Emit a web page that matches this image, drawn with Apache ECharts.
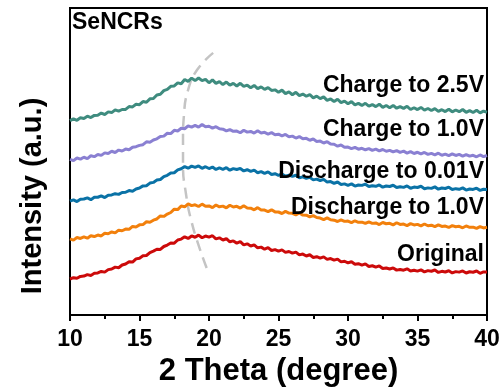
<!DOCTYPE html>
<html>
<head>
<meta charset="utf-8">
<script src="https://cdn.jsdelivr.net/npm/echarts@6/dist/echarts.min.js"></script>
<style>
  html, body { margin: 0; padding: 0; background: #fff; }
  #chart { width: 504px; height: 392px; }
</style>
</head>
<body>
<div id="chart"></div>
<script>
// 2-theta sampling grid (degrees), 0.25 step from 10 to 40
const thetaStart = 10;
const thetaStep = 0.25;

// Stacked, offset XRD intensities (a.u.), one value per grid step
const original = [
  36.2, 37.5, 36.9, 38.8, 39.1, 40.6, 39.8, 41.9, 42.3, 43.8, 43.1, 45.6, 46.2, 48.1, 47.5, 50.2,
  51.3, 53.6, 53.2, 56.4, 57.1, 59.5, 59.8, 62.7, 64.2, 66.1, 65.9, 68.8, 70.3, 72.4, 72.1, 75.3,
  76.2, 78.5, 76.9, 79.4, 78.1, 80.2, 77.6, 79.3, 78.2, 79.6, 76.4, 77.5, 75.3, 76.6, 73.5, 74.4,
  72.2, 73.6, 70.4, 71.5, 69.3, 70.4, 67.5, 68.2, 66.1, 67.6, 64.8, 65.7, 64.2, 65.4, 62.9, 63.8,
  62.1, 63.2, 60.4, 61.2, 59.3, 60.5, 57.8, 58.6, 57.2, 58.4, 55.9, 56.7, 55.1, 56.2, 53.4, 54.0,
  52.3, 53.5, 51.0, 51.6, 50.2, 51.4, 48.8, 49.5, 48.1, 49.3, 46.7, 47.2, 46.2, 47.3, 45.1, 45.8,
  45.0, 46.4, 44.2, 44.9, 44.1, 45.3, 43.4, 44.6, 44.0, 45.2, 42.8, 43.9, 43.2, 44.5, 42.3, 43.6,
  43.1, 44.3, 42.2, 43.5, 43.0, 44.2, 41.9, 43.3, 43.2
];
const discharge1V = [
  76.4, 75.2, 77.8, 76.9, 78.5, 77.1, 79.6, 78.8, 80.3, 79.4, 82.1, 81.6, 83.4, 82.5, 85.2, 84.6,
  86.3, 86.0, 88.9, 88.4, 90.5, 90.8, 93.6, 93.1, 95.2, 96.4, 99.5, 99.0, 101.3, 102.9, 106.2, 105.8,
  109.4, 108.6, 111.5, 109.8, 110.6, 108.9, 111.3, 109.2, 109.5, 107.8, 110.4, 108.6, 109.3, 107.6, 110.2, 108.4,
  109.1, 107.3, 109.6, 107.5, 107.2, 105.6, 107.8, 105.4, 105.3, 103.8, 105.6, 103.5, 103.4, 101.9, 104.0, 102.3,
  102.1, 100.6, 102.4, 100.3, 100.2, 98.5, 99.8, 97.9, 97.3, 95.8, 97.5, 95.6, 95.2, 93.9, 95.6, 94.0,
  94.3, 92.8, 94.6, 93.1, 93.2, 91.9, 93.5, 92.0, 92.4, 90.8, 92.9, 91.6, 92.1, 90.5, 92.6, 90.9,
  91.3, 89.8, 91.7, 90.4, 91.0, 89.5, 91.4, 89.6, 90.2, 88.7, 90.5, 88.9, 89.3, 87.9, 89.8, 88.6,
  89.1, 87.6, 89.4, 88.0, 88.2, 86.9, 88.7, 87.4, 88.1
];
const discharge001V = [
  114.3, 115.6, 113.9, 116.2, 116.4, 117.5, 115.8, 118.1, 118.2, 119.6, 117.9, 120.3, 120.5, 121.8, 121.1, 123.0,
  123.2, 124.9, 124.3, 126.5, 127.4, 129.6, 129.8, 132.4, 133.1, 135.4, 136.0, 138.9, 140.2, 142.5, 142.8, 145.6,
  146.8, 148.9, 147.3, 149.4, 148.1, 149.6, 147.2, 148.8, 147.0, 148.5, 146.1, 147.6, 146.2, 147.8, 145.3, 146.9,
  146.0, 147.1, 144.6, 145.8, 144.2, 145.4, 142.8, 143.9, 142.1, 143.6, 141.0, 141.8, 140.2, 141.5, 139.3, 140.4,
  139.1, 140.3, 137.8, 138.6, 137.2, 138.1, 135.6, 136.4, 135.0, 136.2, 133.4, 133.9, 132.1, 133.5, 131.0, 131.6,
  130.2, 131.6, 129.4, 130.5, 130.1, 131.3, 128.9, 129.8, 129.2, 130.6, 128.3, 129.5, 129.0, 130.2, 127.9, 128.7,
  128.1, 129.5, 127.2, 128.4, 128.0, 129.2, 126.8, 127.6, 127.1, 128.6, 126.3, 127.5, 127.0, 128.3, 125.9, 126.8,
  126.2, 127.6, 125.4, 126.5, 126.0, 127.3, 125.1, 126.2, 126.0
];
const charge1V = [
  156.2, 154.9, 157.6, 156.4, 158.3, 157.0, 159.8, 158.9, 161.1, 160.2, 162.7, 162.0, 164.3, 163.1, 165.5, 164.6,
  166.5, 165.8, 168.4, 168.9, 170.2, 170.9, 173.8, 173.4, 175.6, 176.8, 179.1, 179.5, 182.4, 182.0, 185.3, 184.7,
  187.4, 186.9, 189.8, 188.6, 190.3, 188.5, 191.2, 188.9, 189.4, 187.6, 189.0, 186.8, 186.5, 184.7, 186.1, 184.3,
  184.6, 182.9, 185.4, 183.5, 184.2, 182.6, 184.8, 182.7, 183.3, 181.6, 183.0, 180.9, 181.4, 179.8, 181.2, 178.9,
  179.5, 177.6, 179.1, 176.8, 177.3, 175.4, 176.6, 174.2, 174.5, 172.6, 173.9, 171.5, 171.3, 169.4, 170.6, 168.3,
  168.5, 166.9, 168.2, 166.4, 167.3, 165.8, 167.0, 165.2, 166.4, 164.7, 166.1, 164.3, 165.2, 163.6, 165.0, 163.2,
  164.4, 162.5, 164.0, 162.1, 163.3, 161.6, 163.1, 161.2, 162.2, 160.8, 162.4, 160.3, 161.4, 159.9, 161.6, 160.1,
  161.2, 159.5, 161.0, 159.4, 160.3, 158.8, 160.6, 158.9, 160.1
];
const charge25V = [
  195.0, 196.8, 195.4, 197.9, 197.2, 199.5, 198.1, 200.3, 200.4, 202.6, 201.2, 203.8, 203.1, 205.9, 204.6, 206.2,
  206.3, 209.1, 208.8, 211.4, 211.0, 214.2, 213.5, 216.9, 217.3, 220.8, 221.5, 225.1, 226.4, 229.5, 229.8, 232.9,
  232.1, 236.3, 234.4, 237.6, 235.2, 237.8, 235.1, 236.4, 233.0, 235.9, 232.4, 234.1, 231.2, 233.7, 230.6, 232.4,
  229.8, 232.5, 229.4, 230.6, 228.1, 230.3, 227.2, 228.9, 226.4, 228.2, 225.3, 225.9, 223.5, 225.6, 222.1, 223.8,
  221.0, 223.4, 220.2, 221.7, 219.5, 221.2, 217.8, 219.6, 217.1, 218.9, 215.4, 216.8, 214.2, 216.5, 213.1, 214.6,
  212.0, 214.1, 210.8, 212.3, 210.3, 212.4, 209.6, 211.2, 209.1, 211.5, 208.4, 210.2, 208.0, 210.3, 207.5, 209.1,
  207.3, 209.4, 206.2, 208.0, 206.1, 208.3, 205.6, 207.2, 205.2, 207.1, 204.3, 206.0, 204.1, 206.5, 203.9, 205.7,
  204.0, 206.2, 203.4, 205.1, 203.2, 205.4, 202.8, 204.6, 203.5
];

// Guide through the broad-peak maximum (2-theta, intensity)
const guideTheta = [20.3, 19.15, 18.5, 18.2, 18.13, 18.13, 18.35, 18.7, 19.35, 19.95];
const guideValue = [263, 246, 226, 201, 176, 151, 121, 96, 66, 43];

const seriesNames = ['Original', 'Discharge to 1.0V', 'Discharge to 0.01V', 'Charge to 1.0V', 'Charge to 2.5V'];
const seriesValues = [original, discharge1V, discharge001V, charge1V, charge25V];
const seriesColors = ['#cc0a0a', '#f2800c', '#0a72a6', '#8a80d2', '#3f8c7f'];
const xTicks = [10, 15, 20, 25, 30, 35, 40];

const FONT = '"Liberation Sans", Arial, Helvetica, sans-serif';

const chart = echarts.init(document.getElementById('chart'), null, { renderer: 'canvas' });

const toPairs = (vals) => vals.map((v, i) => [thetaStart + i * thetaStep, v]);

const curveSeries = seriesValues.map((vals, k) => ({
  name: seriesNames[k],
  type: 'line',
  data: toPairs(vals),
  showSymbol: false,
  silent: true,
  z: 3,
  lineStyle: { color: seriesColors[k], width: 3 },
  itemStyle: { color: seriesColors[k] }
}));

const guideSeries = {
  name: 'guide',
  type: 'line',
  data: guideTheta.map((t, i) => [t, guideValue[i]]),
  showSymbol: false,
  smooth: 0.5,
  silent: true,
  z: 2,
  lineStyle: { color: '#c4c4c4', width: 2.5, type: [11, 7] }
};

// Right-aligned sample labels beside each curve
const labelTop = [256, 209, 173, 131, 87];
const labelGraphics = seriesNames.map((name, k) => ({
  type: 'text',
  right: 20,
  top: labelTop[k] - 13,
  z: 10,
  style: {
    text: name,
    fill: '#000',
    font: 'bold 23px ' + FONT,
    textAlign: 'right'
  }
}));

chart.setOption({
  animation: false,
  backgroundColor: '#fff',
  grid: {
    left: 70, right: 17, top: 8, bottom: 76,
    show: true, borderColor: '#000', borderWidth: 2, backgroundColor: 'transparent'
  },
  xAxis: {
    type: 'value',
    min: xTicks[0],
    max: xTicks[xTicks.length - 1],
    interval: 5,
    name: '2 Theta (degree)',
    nameLocation: 'middle',
    nameGap: 39,
    nameTextStyle: { fontFamily: FONT, fontWeight: 'bold', fontSize: 31, color: '#000' },
    axisLine: { show: true, lineStyle: { color: '#000', width: 2 } },
    axisTick: { show: true, inside: false, length: 6, lineStyle: { color: '#000', width: 2 } },
    minorTick: { show: true, splitNumber: 2, length: 4, lineStyle: { color: '#000', width: 2 } },
    axisLabel: { fontFamily: FONT, fontWeight: 'bold', fontSize: 23, color: '#000', margin: 13 },
    splitLine: { show: false }
  },
  yAxis: {
    type: 'value',
    min: 0,
    max: 308,
    axisLine: { show: true, lineStyle: { color: '#000', width: 2 } },
    axisTick: { show: false },
    axisLabel: { show: false },
    splitLine: { show: false }
  },
  graphic: [
    {
      type: 'text',
      left: 72,
      top: 11,
      z: 10,
      style: { text: 'SeNCRs', fill: '#000', font: 'bold 23px ' + FONT }
    },
    {
      // vertical axis title
      type: 'text',
      x: 33,
      y: 196,
      rotation: Math.PI / 2,
      z: 10,
      style: {
        text: 'Intensity (a.u.)',
        fill: '#000',
        font: 'bold 29px ' + FONT,
        textAlign: 'center',
        textVerticalAlign: 'middle'
      }
    }
  ].concat(labelGraphics),
  series: [guideSeries].concat(curveSeries)
});
</script>
</body>
</html>
